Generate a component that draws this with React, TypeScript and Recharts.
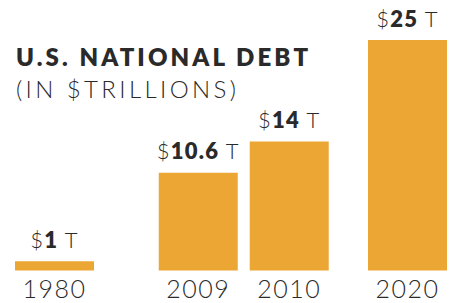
import * as React from "react";
import { BarChart, Bar, XAxis, YAxis, LabelList } from "recharts";

const years = ["1980", "2009", "2010", "2020"];
const debt = [1, 10.6, 14, 25];
// horizontal spacing of the columns (in column widths, uneven like the original)
const slots = [0, 1.58, 2.58, 3.88];

const data = years.map((year, i) => ({ year, debt: debt[i], slot: slots[i] }));

const BAR = "#EBA634";
const INK = "#2a2a2a";
const FONT = "Lato, 'DejaVu Sans', sans-serif";

function YearTick(props: any) {
  const { x, y, payload } = props;
  const i = slots.indexOf(payload.value);
  return (
    <text
      x={x}
      y={y + 27.5}
      textAnchor="middle"
      style={{ fontFamily: FONT, fontSize: 25, fontWeight: 300, fill: INK, letterSpacing: 1.5 }}
    >
      {years[i] ?? ""}
    </text>
  );
}

function ValueLabel(props: any) {
  const { x, y, width, value } = props;
  return (
    <text
      x={x + width / 2}
      y={y - 13.5}
      textAnchor="middle"
      style={{ fontFamily: FONT, fontSize: 22, fill: INK, letterSpacing: 1.2 }}
    >
      <tspan fontWeight={300}>$</tspan>
      <tspan fontWeight={800}>{value}</tspan>
      <tspan fontWeight={300}> T</tspan>
    </text>
  );
}

export default function App() {
  return (
    <div style={{ position: "fixed", left: 0, top: 0, width: 454, height: 303, background: "#fff" }}>
      <BarChart
        width={454}
        height={303}
        data={data}
        margin={{ top: 40, right: 46.5, bottom: 0, left: 54.5 }}
      >
        <XAxis
          type="number"
          dataKey="slot"
          domain={[0, 3.88]}
          ticks={slots}
          interval={0}
          axisLine={false}
          tickLine={false}
          tickSize={0}
          tickMargin={0}
          height={32.5}
          tick={<YearTick />}
        />
        <YAxis hide domain={[0, 25]} />
        <Bar dataKey="debt" fill={BAR} barSize={79} isAnimationActive={false}>
          <LabelList dataKey="debt" content={<ValueLabel />} />
        </Bar>
        <text
          x={16}
          y={66}
          style={{ fontFamily: FONT, fontSize: 24, fontWeight: 800, fill: INK, letterSpacing: 3.1 }}
        >
          U.S. NATIONAL DEBT
        </text>
        <text
          x={16}
          y={98}
          style={{ fontFamily: FONT, fontSize: 24, fontWeight: 300, fill: INK, letterSpacing: 3.4 }}
        >
          (IN $TRILLIONS)
        </text>
      </BarChart>
    </div>
  );
}
